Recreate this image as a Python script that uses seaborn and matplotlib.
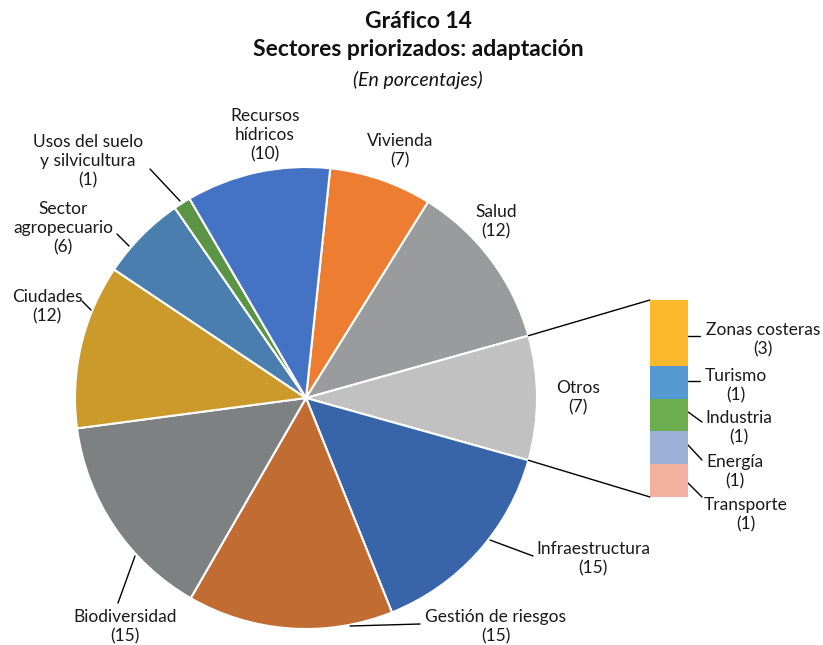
import numpy as np
import matplotlib
matplotlib.use("Agg")
import matplotlib.pyplot as plt
import seaborn as sns

# ---------------- data ----------------
sectors = ["Vivienda", "Salud", "Otros", "Infraestructura", "Gestión de riesgos",
           "Biodiversidad", "Ciudades", "Sector\nagropecuario",
           "Usos del suelo\ny silvicultura", "Recursos\nhídricos"]
sector_values = [7.2, 11.8, None, 14.6, 14.4, 14.6, 11.5, 6.0, 1.2, 10.1]
sector_labels = [7, 12, 7, 15, 15, 15, 12, 6, 1, 10]
sector_colors = ["#ED7D31", "#999B9C", "#C0C1C0", "#3865A9", "#C06C33",
                 "#7E8182", "#CB9A2A", "#4A7EAE", "#5A9444", "#4472C4"]

otros_names = ["Zonas costeras", "Turismo", "Industria", "Energía", "Transporte"]
otros_values = [2.9, 1.45, 1.45, 1.45, 1.45]
otros_labels = [3, 1, 1, 1, 1]
otros_colors = ["#FDB92C", "#5599D3", "#6BAD4F", "#9CB0D8", "#F2B19E"]

values = [sum(otros_values) if v is None else v for v in sector_values]

# ---------------- style ----------------
sns.set_theme(style="white")
plt.rcParams["font.family"] = ["Lato", "DejaVu Sans"]

W, H = 823, 645
fig = plt.figure(figsize=(W / 100, H / 100), dpi=100)
ax = fig.add_axes([0, 0, 1, 1])
ax.set_xlim(0, W)
ax.set_ylim(0, H)
ax.axis("off")

def Y(p):
    return H - p

cx, cy, r = 306, Y(398), 231
total = sum(values)
# Otros slice centred on the horizontal axis (bar-of-pie layout)
start = 360 * (values[0] + values[1] + values[2] / 2) / total

ax.pie(values, colors=sector_colors, startangle=start, counterclock=False,
       center=(cx, cy), radius=r, frame=True,
       wedgeprops=dict(edgecolor="white", linewidth=1.5))
ax.set_xlim(0, W)
ax.set_ylim(0, H)
ax.set_aspect("equal")
ax.axis("off")

# ---------------- bar of pie ----------------
bx0, bx1, by0, by1 = 650, 688, 300, 497
ax2 = fig.add_axes([bx0 / W, Y(by1) / H, (bx1 - bx0) / W, (by1 - by0) / H])
bottom = 0
for v, c in zip(otros_values, otros_colors):
    ax2.bar(0, v, bottom=bottom, width=1.0, color=c, edgecolor="none")
    bottom += v
ax2.set_xlim(-0.5, 0.5)
ax2.set_ylim(bottom, 0)
ax2.axis("off")

# connector lines
a1 = np.deg2rad(start - 360 * (values[0] + values[1]) / total)
a2 = np.deg2rad(start - 360 * (values[0] + values[1] + values[2]) / total)
ax.plot([cx + r * np.cos(a1), bx0], [cy + r * np.sin(a1), Y(by0)], color="black", lw=1)
ax.plot([cx + r * np.cos(a2), bx0], [cy + r * np.sin(a2), Y(by1)], color="black", lw=1)

# ---------------- labels ----------------
fs = 12.5
ls = 1.25
label_pos = {
    "Vivienda": (400, 151),
    "Salud": (496, 222),
    "Otros": (578, 398),
    "Infraestructura": (593, 559),
    "Gestión de riesgos": (496, 627),
    "Biodiversidad": (125, 627),
    "Ciudades": (47, 307),
    "Sector\nagropecuario": (63, 228),
    "Usos del suelo\ny silvicultura": (88, 161),
    "Recursos\nhídricos": (265, 135),
}
for name, lab in zip(sectors, sector_labels):
    x, y = label_pos[name]
    ax.text(x, Y(y), f"{name}\n({lab})", ha="center", va="center",
            fontsize=fs, color="#1a1a1a", linespacing=ls)

leaders = [
    ((150, 169), (180, 201)),
    ((117, 234), (129, 246)),
    ((82, 301), (91, 310)),
    ((118, 603), (135, 556)),
    ((350, 626), (420, 624)),
    ((490, 540), (533, 556)),
    ((688, 336), (700, 336)),
    ((688, 381), (700, 381)),
    ((688, 412), (702, 422)),
    ((688, 445), (702, 460)),
    ((688, 483), (702, 497)),
]
for (x0, y0), (x1, y1) in leaders:
    ax.plot([x0, x1], [Y(y0), Y(y1)], color="black", lw=1)

otros_pos = [(763, 340), (736, 386), (739, 428), (735, 472), (746, 515)]
for name, lab, (x, y) in zip(otros_names, otros_labels, otros_pos):
    ax.text(x, Y(y), f"{name}\n({lab})", ha="center", va="center",
            fontsize=fs, color="#1a1a1a", linespacing=ls)

# ---------------- titles ----------------
ax.text(418, Y(22), "Gráfico 14", ha="center", va="center",
        fontsize=16.5, fontweight="bold", color="#111111")
ax.text(418, Y(50), "Sectores priorizados: adaptación", ha="center", va="center",
        fontsize=16.5, fontweight="bold", color="#111111")
ax.text(418, Y(80), "(En porcentajes)", ha="center", va="center",
        fontsize=14, fontstyle="italic", color="#111111")

fig.savefig("out.png", dpi=100)
